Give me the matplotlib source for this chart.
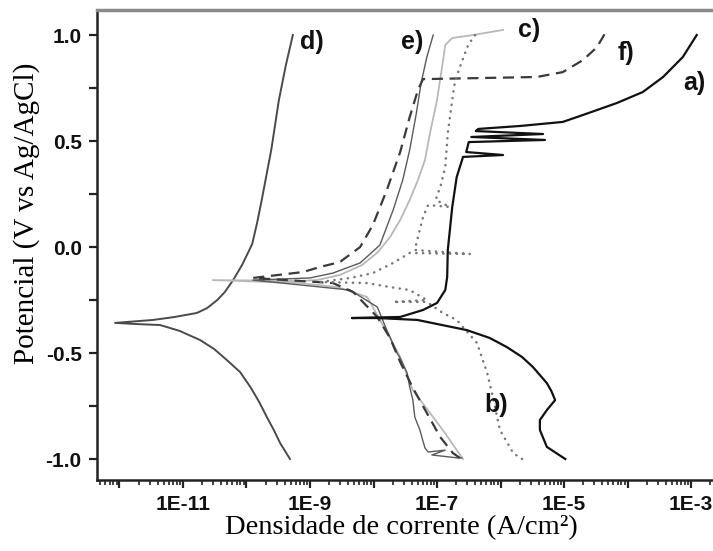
import numpy as np
import matplotlib
matplotlib.use("Agg")
import matplotlib.pyplot as plt
from matplotlib.ticker import LogLocator, FixedLocator, NullFormatter, FuncFormatter

# Polarization curves: log10 of current density (A/cm2) and potential (V vs Ag/AgCl)
a_log_i = [-4.98, -5.27, -5.38, -5.38, -5.27, -5.14, -5.20, -5.27, -5.49, -5.66, -5.90, -6.17, -6.53, -7.31, -7.94, -8.34,
           -7.58, -7.22, -7.00, -6.87, -6.84, -6.83, -6.76, -6.69, -6.59,
           -5.96, -6.54, -6.50, -5.30, -6.46, -5.33, -6.39, -6.35, -5.69, -5.02,
           -4.70, -4.17, -3.76, -3.44, -3.13, -2.91]
a_E = [-1.0, -0.943, -0.863, -0.816, -0.769, -0.722, -0.679, -0.642, -0.566, -0.519, -0.472, -0.429, -0.392, -0.344, -0.335, -0.335,
       -0.330, -0.297, -0.264, -0.203, -0.142, -0.014, 0.189, 0.330, 0.425,
       0.434, 0.448, 0.495, 0.505, 0.519, 0.533, 0.547, 0.557, 0.571, 0.590,
       0.623, 0.679, 0.731, 0.802, 0.896, 1.0]

b_log_i = [-5.66, -5.80, -6.01, -6.12, -6.21, -6.37, -6.69, -6.91, -7.16, -7.69, -7.16, -7.43, -7.74, -8.10, -8.84,
           -8.37, -8.01, -7.69, -7.43, -6.48, -7.35, -7.30, -7.22, -7.14, -6.80, -7.02, -6.94, -6.87,
           -6.83, -6.76, -6.72, -6.64, -6.51, -6.40]
b_E = [-1.0, -0.972, -0.863, -0.708, -0.594, -0.453, -0.344, -0.311, -0.259, -0.259, -0.250, -0.203, -0.189, -0.170, -0.165,
       -0.146, -0.123, -0.075, -0.028, -0.033, -0.014, 0.047, 0.142, 0.198, 0.189, 0.222, 0.292, 0.377,
       0.538, 0.693, 0.778, 0.849, 0.953, 1.0]

c_log_i = [-6.59, -6.91, -7.11, -7.38, -7.58, -7.79, -8.10, -8.57, -9.16, -10.53, -9.16, -8.89, -8.53,
           -8.18, -7.93, -7.74, -7.58, -7.43, -7.30, -7.19, -7.11, -7.00, -6.92, -6.87, -6.76, -6.43, -5.96]
c_E = [-1.0, -0.863, -0.783, -0.675, -0.519, -0.401, -0.236, -0.189, -0.170, -0.156, -0.160, -0.156, -0.132,
       -0.085, -0.024, 0.047, 0.127, 0.222, 0.316, 0.410, 0.538, 0.693, 0.849, 0.953, 0.986, 1.0, 1.024]

d_log_i = [-9.315, -9.47, -9.57, -9.68, -9.80, -9.94, -10.10, -10.31, -10.51, -10.73, -11.05, -11.36, -11.76, -12.07,
           -11.47, -11.13, -10.78, -10.62, -10.46, -10.34, -10.21, -10.07, -9.91, -9.83, -9.76, -9.61, -9.49,
           -9.38, -9.27]
d_E = [-1.0, -0.925, -0.863, -0.802, -0.731, -0.660, -0.590, -0.533, -0.481, -0.439, -0.396, -0.368, -0.363, -0.358,
       -0.344, -0.330, -0.311, -0.288, -0.250, -0.212, -0.156, -0.085, 0.014, 0.118, 0.222, 0.458, 0.693,
       0.858, 1.0]

e_log_i = [-6.61, -6.67, -7.08, -6.87, -7.14, -7.19, -7.27, -7.35, -7.38, -7.43, -7.47, -7.58, -7.63,
           -7.74, -7.79, -7.94, -8.37, -9.90, -9.00, -8.64, -8.21, -7.90, -7.69, -7.54, -7.43,
           -7.33, -7.25, -7.16, -7.06]
e_E = [-0.995, -0.995, -0.981, -0.958, -0.967, -0.948, -0.863, -0.802, -0.722, -0.660, -0.594, -0.524, -0.500,
       -0.425, -0.392, -0.283, -0.203, -0.156, -0.146, -0.123, -0.075, 0.009, 0.175, 0.316, 0.458,
       0.623, 0.774, 0.896, 1.0]

f_log_i = [-6.64, -6.75, -6.95, -7.16, -7.38, -7.58, -7.74, -7.94, -8.32, -8.64, -9.90,
           -9.11, -8.84, -8.53, -8.21, -8.01, -7.79, -7.58, -7.43, -7.30, -7.22,
           -6.32, -5.43, -5.02, -4.70, -4.48, -4.35]
f_E = [-0.995, -0.972, -0.896, -0.783, -0.665, -0.542, -0.429, -0.330, -0.212, -0.170, -0.146,
       -0.118, -0.094, -0.071, 0.0, 0.104, 0.269, 0.448, 0.613, 0.741, 0.792,
       0.797, 0.802, 0.825, 0.882, 0.943, 1.01]

curve_labels = ["a)", "b)", "c)", "d)", "e)", "f)"]
label_pos_log_i = [-3.12, -6.25, -5.72, -9.15, -7.57, -4.15]
label_pos_E = [0.775, -0.745, 1.025, 0.965, 0.965, 0.915]

x_tick_exponents = [-11, -9, -7, -5, -3]
y_ticks = [-1.0, -0.5, 0.0, 0.5, 1.0]

fig = plt.figure(figsize=(7.13, 5.51), dpi=100)
ax = fig.add_axes([97 / 713, 1 - 480 / 551, 1 - 97 / 713, 470 / 551])

def cur(v):
    return 10.0 ** np.asarray(v)

ax.plot(cur(d_log_i), d_E, color="#4a4a4a", lw=1.4, solid_joinstyle="round")
ax.plot(cur(c_log_i), c_E, color="#b8b8b8", lw=1.3, solid_joinstyle="round")
ax.plot(cur(e_log_i), e_E, color="#5a5a5a", lw=1.0, solid_joinstyle="round")
ax.plot(cur(f_log_i), f_E, color="#3a3a3a", lw=1.6, linestyle=(0, (5, 3)))
ax.plot(cur(b_log_i), b_E, color="#777777", lw=1.8, linestyle=(0, (0.1, 2.6)),
        dash_capstyle="round")
ax.plot(cur(a_log_i), a_E, color="#111111", lw=1.6, solid_joinstyle="round")

for lab, lx, ly in zip(curve_labels, label_pos_log_i, label_pos_E):
    ax.text(10.0 ** lx, ly, lab, fontsize=18, fontweight="bold", family="Liberation Sans",
            ha="left", va="center", color="#111111")

ax.set_xscale("log")
ax.set_xlim(10 ** -12.354, 10 ** -2.654)
ax.set_ylim(-1.099, 1.118)

ax.xaxis.set_major_locator(LogLocator(base=10, numticks=30))
ax.xaxis.set_minor_locator(LogLocator(base=10, subs=np.arange(2, 10), numticks=100))
ax.xaxis.set_minor_formatter(NullFormatter())
labelled = set(x_tick_exponents)
ax.xaxis.set_major_formatter(FuncFormatter(
    lambda v, p: ("1E%d" % round(np.log10(v))) if round(np.log10(v)) in labelled else ""))

ax.yaxis.set_major_locator(FixedLocator(y_ticks))
ax.yaxis.set_minor_locator(FixedLocator([-0.75, -0.25, 0.25, 0.75]))
ax.yaxis.set_major_formatter(FuncFormatter(lambda v, p: "%.1f" % v))

ax.tick_params(axis="both", which="major", direction="out", length=6, width=1.6, color="#222222",
               labelsize=15, pad=5)
ax.tick_params(axis="y", which="minor", direction="out", length=6, width=1.6, color="#222222")
ax.tick_params(axis="x", which="minor", direction="out", length=3.5, width=1.2, color="#222222")
for lbl in ax.get_xticklabels() + ax.get_yticklabels():
    lbl.set_fontweight("bold")
    lbl.set_family("Liberation Sans")
    lbl.set_color("#111111")

ax.spines["right"].set_visible(False)
ax.spines["top"].set_color("#8a8a8a")
ax.spines["top"].set_linewidth(2.5)
ax.spines["left"].set_linewidth(1.8)
ax.spines["bottom"].set_linewidth(1.8)
ax.spines["left"].set_color("#222222")
ax.spines["bottom"].set_color("#222222")

fig.text(401 / 713, 1 - 528 / 551, "Densidade de corrente (A/cm²)", family="Liberation Serif",
         fontsize=20.5, ha="center", va="center")
fig.text(27 / 713, 1 - 213 / 551, "Potencial (V vs Ag/AgCl)", family="Liberation Serif",
         fontsize=21, ha="center", va="center", rotation=90)

fig.savefig("out.png", dpi=100)
